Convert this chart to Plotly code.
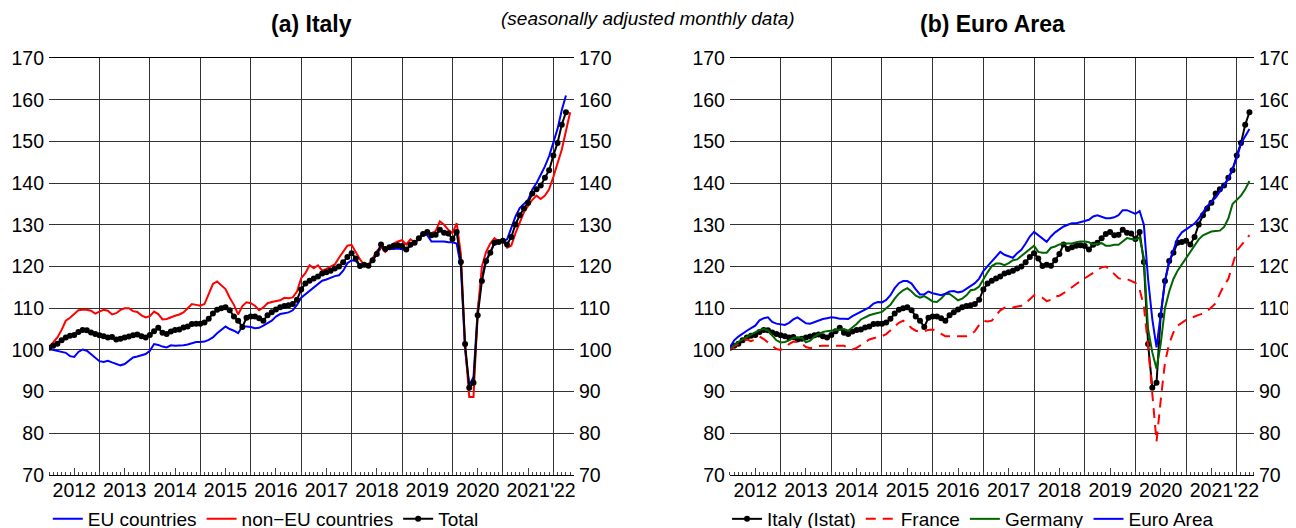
import plotly.graph_objects as go

# ---------------- data (monthly, Jan 2012 = month 0) ----------------
year_labels = ["2012", "2013", "2014", "2015", "2016", "2017", "2018", "2019", "2020", "2021", "'22"]
label_pos = [2012.5, 2013.5, 2014.5, 2015.5, 2016.5, 2017.5, 2018.5, 2019.5, 2020.5, 2021.5, 2022.19]
grid_years = list(range(2012, 2023))

total = [
    100.5, 101.0, 101.5, 102.3, 103.0, 103.4, 103.6, 104.3, 104.8, 104.7, 104.2, 103.8,
    103.5, 103.3, 103.0, 103.1, 102.5, 102.7, 103.0, 103.2, 103.5, 103.7, 103.3, 103.0,
    103.6, 104.5, 105.3, 104.1, 103.8, 104.4, 104.8, 104.9, 105.4, 105.6, 106.2, 106.3,
    106.3, 106.6, 107.5, 108.7, 109.6, 110.0, 110.2, 109.5, 108.0, 107.0, 105.5, 107.7,
    108.0, 108.0, 107.6, 107.0, 108.3, 109.0, 109.7, 110.2, 110.5, 110.7, 111.0, 112.0,
    114.5, 115.9, 116.6, 117.1, 117.6, 118.3, 118.6, 119.0, 119.5, 120.0, 121.0, 122.3,
    123.2, 121.9, 120.1, 120.4, 120.2, 121.5, 123.0, 125.3, 124.2, 124.6, 125.0, 125.1,
    124.9, 124.1, 125.2, 125.7, 126.8, 127.8, 128.3, 127.5, 127.6, 128.8, 128.1, 127.9,
    126.6, 128.3, 121.1, 101.4, 90.9, 92.1, 108.3, 116.5, 121.3, 123.3, 125.7, 125.9,
    126.2, 125.3, 127.1, 130.1, 132.3, 133.9, 135.3, 137.5, 138.5, 139.4, 141.3, 143.1,
    146.6, 149.6, 154.0, 157.0,
]

eu = [
    100.2, 100.0, 99.8, 99.6, 99.3, 98.5, 98.3, 99.5, 100.1, 99.8, 99.0, 98.0,
    97.3, 97.1, 97.4, 97.0, 96.6, 96.3, 96.6, 97.5, 98.2, 98.4, 98.7, 99.0,
    99.8, 101.4, 101.2, 100.8, 100.6, 101.1, 101.0, 101.0, 101.1, 101.3, 101.6, 101.9,
    101.9, 102.0, 102.4, 103.0, 104.0, 104.8, 105.6, 105.0, 104.6, 104.0, 105.6, 105.6,
    105.5, 105.2, 105.3, 105.8, 106.4, 107.0, 108.0, 108.6, 108.8, 109.0, 109.5, 110.8,
    112.5, 113.3, 114.0, 114.8, 115.8, 116.6, 116.9, 117.3, 117.7, 117.9, 119.0, 120.8,
    121.5, 121.3, 120.2, 120.3, 120.2, 121.5, 123.0, 124.5, 124.3, 124.2, 124.2, 124.3,
    124.2, 124.0, 125.0, 125.7, 126.5, 127.8, 127.5, 126.0, 126.0, 126.0, 126.0, 125.8,
    125.8, 125.5, 120.0, 100.0, 91.5, 93.5, 109.5, 117.5, 121.5, 123.5, 125.5, 126.0,
    126.0, 126.5, 129.5, 132.0, 134.0, 135.0, 136.0, 138.5, 140.0, 142.0, 144.0, 146.5,
    149.5, 153.0, 157.5, 161.0,
]

non_eu = [
    100.6, 101.7, 103.0, 104.8, 107.0, 107.7, 108.5, 109.5, 109.6, 109.6, 109.4, 108.7,
    109.2, 109.6, 109.4, 108.5, 108.8, 109.6, 110.0, 110.0, 109.3, 109.1, 108.3, 107.8,
    108.1, 109.2, 108.6, 107.3, 107.4, 107.9, 108.2, 108.5, 109.0, 110.0, 111.0, 110.8,
    110.6, 111.0, 113.5, 115.8, 116.4, 115.4, 114.6, 112.5, 110.8, 108.5, 110.5, 111.4,
    111.2, 110.6, 109.5, 110.2, 111.2, 111.5, 111.7, 111.9, 112.5, 112.4, 112.6, 114.0,
    117.2, 118.4, 120.3, 119.6, 120.3, 119.0, 119.4, 120.0, 120.5, 122.1, 123.6, 125.0,
    125.2, 123.5, 121.7, 120.4, 120.4, 122.0, 123.7, 124.8, 123.5, 124.6, 125.5, 126.0,
    126.3, 125.3, 126.5, 125.8, 126.7, 128.0, 128.2, 128.0, 128.5, 130.8, 130.0, 128.8,
    128.0, 130.4, 123.0, 101.0, 88.7, 88.7, 109.0, 120.0, 123.5, 125.5, 126.8, 126.0,
    126.4, 124.5, 125.0, 128.0, 130.5, 133.0, 134.5, 136.0, 137.0, 136.2, 137.0, 138.5,
    141.5, 144.8, 148.0, 152.5, 157.0,
]

france = [
    100.2, 100.8, 101.4, 102.2, 102.5, 102.1, 102.5, 103.2, 102.6, 101.8, 101.0, 100.2,
    100.0, 100.5, 101.4, 102.0, 101.9, 101.5, 100.7, 100.4, 100.6, 100.9, 101.0, 101.0,
    101.0, 101.0, 101.0, 101.0, 100.5, 100.1, 100.5, 101.1, 101.8, 102.5, 102.8, 103.0,
    103.3, 103.8, 104.6, 105.6, 106.5, 107.0, 106.3, 105.2, 104.6, 104.4, 104.5, 104.8,
    104.9, 104.4, 103.7, 103.3, 103.3, 103.3, 103.3, 103.3, 103.3, 103.6, 104.5, 106.0,
    107.0, 106.8, 107.0, 108.3, 109.5, 110.1, 110.4, 110.2, 110.4, 110.6, 111.2, 112.2,
    113.1, 113.0, 112.5, 111.7, 112.0, 112.8, 113.0, 113.6, 114.4, 115.1, 115.8, 116.5,
    117.2, 117.8, 118.5, 119.2, 119.8, 120.0, 119.2, 118.2, 117.2, 116.9, 117.0, 116.5,
    116.1, 114.5, 110.5, 101.0, 90.0, 78.0, 88.0, 97.0, 101.5, 104.2, 105.8, 106.6,
    107.2, 107.6, 108.1, 108.4, 108.7, 109.3, 110.2, 111.2, 113.5, 115.5, 117.0, 120.5,
    123.8, 125.0, 126.2, 127.5,
]

germany = [
    100.4, 101.2, 101.9, 102.5, 103.1, 103.7, 104.2, 104.8, 105.0, 104.7, 103.5, 102.3,
    101.8, 101.9, 102.3, 102.9, 103.0, 102.9, 101.8, 102.2, 103.2, 103.8, 104.3, 104.5,
    104.6, 104.7, 104.8, 105.0, 104.6, 105.3, 106.2, 107.3, 107.9, 108.3, 108.6, 108.8,
    109.1, 110.0, 110.8, 112.3, 113.5, 114.3, 114.8, 114.0, 113.0, 112.5, 112.9, 112.3,
    111.6, 111.5, 112.3, 113.4, 113.4, 112.7, 111.9, 112.3, 113.1, 114.3, 114.5, 115.2,
    117.0, 118.6, 120.1, 120.7, 120.7, 120.3, 120.8, 121.5, 121.7, 122.5, 123.3, 124.2,
    125.0, 123.5, 123.3, 123.3, 124.5, 124.8, 125.3, 125.5, 125.5, 125.5, 125.8, 126.0,
    126.0, 125.8, 125.3, 125.5, 125.6, 125.0, 125.0, 125.2, 125.2, 126.0, 126.8, 126.6,
    126.4, 127.0, 122.0, 105.0, 99.4, 95.5, 101.5, 110.0, 114.0, 117.0, 119.0, 120.5,
    122.0, 123.3, 125.0, 126.5, 127.5, 128.0, 128.4, 128.5, 128.6, 129.5, 131.5, 135.0,
    136.0, 137.0, 138.5, 140.5,
]

euro_area = [
    100.6, 102.3, 103.2, 104.0, 104.6, 105.2, 105.8, 107.1, 107.6, 107.8, 106.7, 106.3,
    106.2, 106.0, 106.5, 107.3, 107.8, 107.0, 106.4, 106.3, 106.7, 107.1, 107.4, 107.6,
    107.8, 107.7, 107.5, 107.5, 107.4, 108.1, 108.6, 109.1, 109.5, 110.2, 111.1, 111.5,
    111.4, 112.0, 113.1, 114.8, 116.0, 116.5, 116.5, 115.9, 114.5, 113.3, 113.3, 114.0,
    113.6, 113.3, 113.1, 113.5, 114.0, 114.1, 113.8, 114.0, 114.6, 115.2, 116.0, 117.1,
    118.9, 120.1, 121.3, 122.3, 123.5, 122.8, 122.4, 122.1, 123.2, 124.0, 125.5, 127.2,
    128.3, 127.5, 126.6, 125.9, 127.2, 128.2, 128.9, 129.6, 130.0, 130.4, 130.4, 130.6,
    130.9, 131.2, 132.0, 132.3, 131.9, 131.6, 131.6, 131.8, 132.3, 133.5, 133.5, 133.0,
    132.6, 133.3, 130.0, 117.0, 107.4, 100.6, 109.0, 116.5, 121.0, 124.0, 126.8, 128.2,
    128.9, 129.5, 130.3, 131.5, 133.0, 134.5, 135.5, 136.5, 138.0, 139.5, 141.0, 143.5,
    146.0, 149.5, 151.3, 153.0,
]


def months(series):
    return [2012 + i / 12 for i in range(len(series))]


# ---------------- figure ----------------
FONT = "Liberation Sans, Arial, Helvetica, sans-serif"
GRID = "#333333"
FS = 19.5
LFS = 19
fig = go.Figure()

# panel (a)
fig.add_trace(go.Scatter(x=months(eu), y=eu, mode="lines", name="EU countries",
                         line=dict(color="#0000ff", width=2), xaxis="x", yaxis="y", legend="legend"))
fig.add_trace(go.Scatter(x=months(non_eu), y=non_eu, mode="lines", name="non\u2212EU countries",
                         line=dict(color="#ff0000", width=2), xaxis="x", yaxis="y", legend="legend"))
fig.add_trace(go.Scatter(x=months(total), y=total, mode="lines+markers", name="Total",
                         line=dict(color="black", width=2), marker=dict(color="black", size=6),
                         xaxis="x", yaxis="y", legend="legend"))

# panel (b)
fig.add_trace(go.Scatter(x=months(total), y=total, mode="lines+markers", name="Italy (Istat)",
                         line=dict(color="black", width=2), marker=dict(color="black", size=6),
                         xaxis="x2", yaxis="y2", legend="legend2"))
fig.add_trace(go.Scatter(x=months(france), y=france, mode="lines", name="France",
                         line=dict(color="#ff0000", width=2, dash="10px,7px"),
                         xaxis="x2", yaxis="y2", legend="legend2"))
fig.add_trace(go.Scatter(x=months(germany), y=germany, mode="lines", name="Germany",
                         line=dict(color="#006400", width=2), xaxis="x2", yaxis="y2", legend="legend2"))
fig.add_trace(go.Scatter(x=months(euro_area), y=euro_area, mode="lines", name="Euro Area",
                         line=dict(color="#0000ff", width=2), xaxis="x2", yaxis="y2", legend="legend2"))

# empty helper traces so that the overlay axes (tick marks, labels, right scales) get drawn
for xa, ya in [("x3", "y"), ("x5", "y3"), ("x4", "y2"), ("x6", "y4")]:
    fig.add_trace(go.Scatter(x=[], y=[], mode="lines", xaxis=xa, yaxis=ya,
                             showlegend=False, hoverinfo="skip"))

range_a = [2012, 2022.41]
range_b = [2012, 2022.34]
dom_a = [0, 0.4357]
dom_b = [0.5651, 1]
month_ticks = [2012 + i / 12 for i in range(0, 126)]
mid_ticks = [y + 0.5 for y in grid_years[:-1]]
ytick = list(range(70, 171, 10))

tickfont = dict(family=FONT, size=FS, color="black")


def grid_axis(dom, rng, anchor):
    return dict(domain=dom, range=rng, anchor=anchor, tickmode="array", tickvals=grid_years,
                showticklabels=False, ticks="", showgrid=True, gridcolor=GRID, gridwidth=1,
                showline=True, linecolor="black", linewidth=1, mirror=True, zeroline=False,
                minor=dict(tickmode="array", tickvals=month_ticks, ticks="inside", ticklen=3,
                           tickcolor="#444444", tickwidth=1, showgrid=False))


def mid_axis(rng, over, anchor):
    return dict(range=rng, overlaying=over, anchor=anchor, side="bottom", tickmode="array",
                tickvals=mid_ticks, showticklabels=False, ticks="inside", ticklen=7,
                tickcolor="#444444", showgrid=False, zeroline=False, showline=False)


def label_axis(rng, over, anchor):
    return dict(range=rng, overlaying=over, anchor=anchor, side="bottom", tickmode="array",
                tickvals=label_pos, ticktext=year_labels, ticks="", tickangle=0,
                tickfont=tickfont, showgrid=False, zeroline=False, showline=False,
                ticklabelstandoff=1)


def y_axis(anchor, side, over=None, grid=True):
    d = dict(range=[70, 170], anchor=anchor, side=side, tickmode="array", tickvals=ytick,
             ticks="", tickfont=tickfont, showgrid=grid, gridcolor=GRID, gridwidth=1,
             zeroline=False, showline=False, ticklabelstandoff=4)
    if over:
        d["overlaying"] = over
    return d


# page body has an 8px margin, so the figure is shifted 8px right/down on screen;
# the margins compensate for that offset
fig.update_layout(
    width=1296, height=528,
    margin=dict(l=41, r=50, t=50, b=61, autoexpand=False),
    paper_bgcolor="white", plot_bgcolor="white",
    font=dict(family=FONT, size=FS, color="black"),
    xaxis=grid_axis(dom_a, range_a, "y"),
    xaxis2=grid_axis(dom_b, range_b, "y2"),
    xaxis3=mid_axis(range_a, "x", "y"),
    xaxis4=mid_axis(range_b, "x2", "y2"),
    xaxis5=label_axis(range_a, "x", "y"),
    xaxis6=label_axis(range_b, "x2", "y2"),
    yaxis=y_axis("x", "left"),
    yaxis2=y_axis("x2", "left"),
    yaxis3=y_axis("x", "right", over="y", grid=False),
    yaxis4=y_axis("x2", "right", over="y2", grid=False),
    legend=dict(orientation="h", x=-0.001, xanchor="left", y=-0.1055, yanchor="middle",
                font=dict(family=FONT, size=LFS, color="black"), bgcolor="rgba(0,0,0,0)"),
    legend2=dict(orientation="h", x=0.5627, xanchor="left", y=-0.1055, yanchor="middle",
                 font=dict(family=FONT, size=LFS, color="black"), bgcolor="rgba(0,0,0,0)"),
    showlegend=True,
    annotations=[
        dict(text="<i>(seasonally adjusted monthly data)</i>", xref="paper", yref="paper",
             x=0.4971, y=1.094, xanchor="center", yanchor="middle", showarrow=False,
             font=dict(family=FONT, size=19, color="black")),
        dict(text="<b>(a) Italy</b>", xref="paper", yref="paper", x=0.218, y=1.0815,
             xanchor="center", yanchor="middle", showarrow=False,
             font=dict(family=FONT, size=23, color="black")),
        dict(text="<b>(b) Euro Area</b>", xref="paper", yref="paper", x=0.7826, y=1.0815,
             xanchor="center", yanchor="middle", showarrow=False,
             font=dict(family=FONT, size=23, color="black")),
    ],
)

fig.write_html("out.html")
